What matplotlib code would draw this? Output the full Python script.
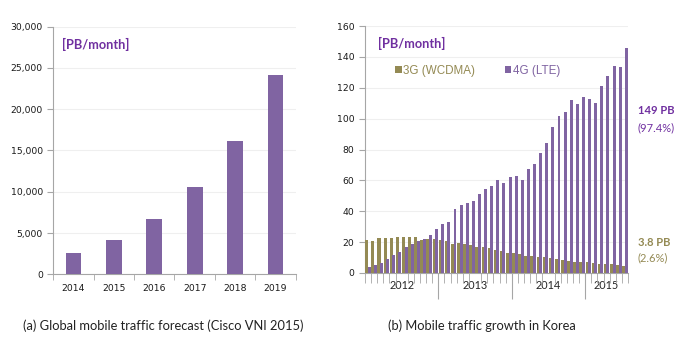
import matplotlib
matplotlib.use("Agg")
import matplotlib.pyplot as plt
import numpy as np

# --- data -------------------------------------------------------------
years_a = ["2014", "2015", "2016", "2017", "2018", "2019"]
traffic_a = [2550, 4150, 6700, 10600, 16100, 24200]

# monthly traffic in Korea, Jan 2012 .. Jul 2015 (PB/month)
lte_4g = [3.8, 5.3, 6.7, 9.2, 11.8, 13.6, 16.8, 19.0, 20.8, 22.3, 24.8, 28.6,
          31.5, 33.2, 41.3, 44.0, 45.5, 46.5, 51.4, 54.4, 56.3, 60.0, 58.3, 62.2,
          62.6, 60.2, 67.4, 70.4, 78.0, 84.4, 94.6, 101.6, 104.0, 112.2, 109.6, 114.0,
          112.9, 110.0, 121.4, 127.6, 134.0, 133.7, 146.0]
wcdma_3g = [21.5, 21.0, 22.5, 22.5, 22.8, 23.0, 23.2, 23.5, 23.5, 21.2, 21.8, 22.0,
            21.3, 20.5, 19.0, 19.5, 18.5, 18.0, 16.8, 16.8, 16.2, 15.0, 14.5, 13.0,
            12.8, 12.3, 10.7, 10.7, 10.5, 10.2, 9.8, 9.2, 8.6, 7.8, 7.4, 7.2,
            7.0, 6.4, 5.9, 5.9, 5.6, 5.2, 4.6]
years_b = ["2012", "2013", "2014", "2015"]
months_per_year = [12, 12, 12, 7]

purple = "#8064a2"
olive = "#948a54"
txt_purple = "#7030a0"
txt_olive = "#948a54"
grid_c = "#efefef"
spine_c = "#a6a6a6"

fig = plt.figure(figsize=(6.86, 3.45), dpi=100)

# --- (a) global forecast ---------------------------------------------
ax1 = fig.add_axes([0.0777, 0.205, 0.3533, 0.7176])
x1 = np.arange(len(years_a))
ax1.bar(x1, traffic_a, width=0.39, color=purple, zorder=3)
ax1.set_xlim(-0.5, len(years_a) - 0.5)
ax1.set_ylim(0, 30000)
ax1.set_yticks(np.arange(0, 30001, 5000))
ax1.set_yticklabels([f"{v:,}" for v in range(0, 30001, 5000)])
ax1.set_xticks(x1)
ax1.set_xticklabels(years_a)
ax1.set_xticks(np.arange(-0.5, len(years_a)), minor=True)
ax1.tick_params(axis="x", which="major", length=0, pad=7, labelsize=6.7, colors="#1a1a1a")
ax1.tick_params(axis="x", which="minor", length=4, color=spine_c)
ax1.tick_params(axis="y", length=4, color=spine_c, labelsize=6.7, labelcolor="#1a1a1a")
ax1.grid(axis="y", color=grid_c, lw=0.8, zorder=0)
for s in ["top", "right"]:
    ax1.spines[s].set_visible(False)
for s in ["left", "bottom"]:
    ax1.spines[s].set_color(spine_c)
ax1.text(0.035, 0.93, "[PB/month]", transform=ax1.transAxes, color=txt_purple,
         fontsize=9.2, fontweight="bold", family="Lato", va="center")

# --- (b) Korea monthly traffic ---------------------------------------
ax2 = fig.add_axes([0.532, 0.2087, 0.3835, 0.7159])
n = len(lte_4g)
xm = np.arange(n)
b3 = ax2.bar(xm - 0.2, wcdma_3g, width=0.5, color=olive, zorder=3, label="3G (WCDMA)")
b4 = ax2.bar(xm + 0.22, lte_4g, width=0.48, color=purple, zorder=4, label="4G (LTE)")
ax2.set_xlim(-0.5, n - 0.5)
ax2.set_ylim(0, 160)
ax2.set_yticks(np.arange(0, 161, 20))
ax2.tick_params(axis="y", length=4, color=spine_c, labelsize=6.7, labelcolor="#1a1a1a")
ax2.grid(axis="y", color=grid_c, lw=0.8, zorder=0)
for s in ["top", "right"]:
    ax2.spines[s].set_visible(False)
for s in ["left", "bottom"]:
    ax2.spines[s].set_color(spine_c)

bounds = np.concatenate([[0], np.cumsum(months_per_year)]) - 0.5
centers = (bounds[:-1] + bounds[1:]) / 2
ax2.set_xticks(centers)
ax2.set_xticklabels(years_b)
ax2.set_xticks(np.arange(-0.5, n), minor=True)
ax2.tick_params(axis="x", which="major", length=0, pad=5, labelsize=7.8,
                colors="#262626")
ax2.tick_params(axis="x", which="minor", length=7, color=spine_c)
for lab in ax2.get_xticklabels():
    lab.set_family("Lato")
sec = ax2.secondary_xaxis("bottom")
sec.set_xticks(bounds[1:-1])
sec.set_xticklabels([])
sec.tick_params(length=19, color=spine_c)
sec.spines["bottom"].set_visible(False)

ax2.text(0.05, 0.93, "[PB/month]", transform=ax2.transAxes, color=txt_purple,
         fontsize=9.2, fontweight="bold", family="Lato", va="center")
leg = ax2.legend(handles=[b3, b4], loc="upper left", bbox_to_anchor=(0.075, 0.885),
                 ncol=2, frameon=False, handlelength=0.55, handleheight=0.55,
                 handletextpad=0.1, columnspacing=2.6,
                 prop={"family": "Liberation Sans", "size": 8.4},
                 labelcolor=[txt_olive, purple])

# side notes
fig.text(0.930, 1 - 111 / 345, "149 PB", color=txt_purple, fontsize=8,
         fontweight="bold", family="Lato", va="center")
fig.text(0.930, 1 - 128 / 345, "(97.4%)", color=txt_purple, fontsize=8,
         family="Lato", va="center")
fig.text(0.930, 1 - 242 / 345, "3.8 PB", color=txt_olive, fontsize=8,
         fontweight="bold", family="Lato", va="center")
fig.text(0.930, 1 - 258 / 345, "(2.6%)", color=txt_olive, fontsize=8,
         family="Lato", va="center")

# captions
fig.text(163 / 686, 1 - 326 / 345, "(a) Global mobile traffic forecast (Cisco VNI 2015)",
         ha="center", va="center", fontsize=9.3, family="Lato", color="#222222")
fig.text(482 / 686, 1 - 326 / 345, "(b) Mobile traffic growth in Korea",
         ha="center", va="center", fontsize=9.3, family="Lato", color="#222222")

fig.savefig("out.png", dpi=100)
